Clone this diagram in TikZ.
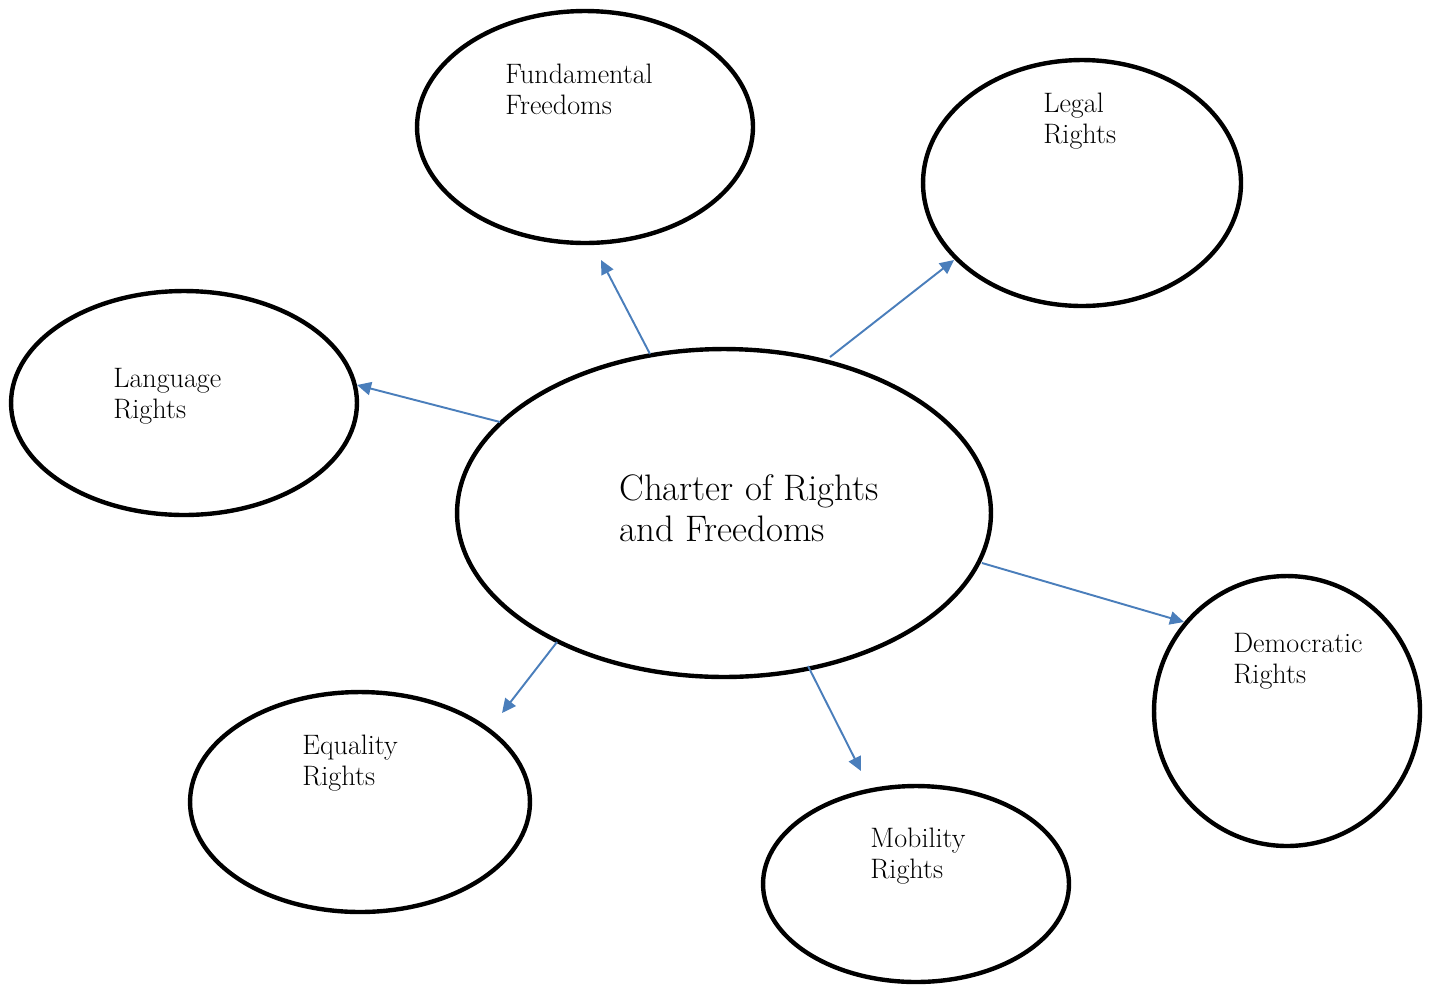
\documentclass[tikz,border=0pt]{standalone}
\usetikzlibrary{arrows.meta,shapes.geometric}
\definecolor{arrowblue}{RGB}{74,126,187}
\begin{document}
\begin{tikzpicture}[x=0.02cm,y=-0.02cm,
  bubble/.style={draw=black,line width=2.5pt,ellipse,inner sep=0pt,outer sep=0pt},
  lbl/.style={anchor=north west,inner sep=0pt,align=left,font=\fontsize{16}{17.6}\selectfont},
  biglbl/.style={anchor=north west,inner sep=0pt,align=left,font=\fontsize{21}{23.4}\selectfont},
  conn/.style={draw=arrowblue,line width=1.1pt,-{Triangle[length=8pt,width=7.5pt]}}]
\useasboundingbox (0,0) rectangle (1429,988);
% ellipses
\node[bubble,minimum width=6.72cm,minimum height=4.64cm] (fund) at (585,127) {};
\node[bubble,minimum width=6.36cm,minimum height=4.92cm] (legal) at (1082,183) {};
\node[bubble,minimum width=6.92cm,minimum height=4.48cm] (lang) at (184,403) {};
\node[bubble,minimum width=10.68cm,minimum height=6.56cm] (charter) at (724,513) {};
\node[bubble,minimum width=5.32cm,minimum height=5.40cm] (demo) at (1287,711) {};
\node[bubble,minimum width=6.80cm,minimum height=4.40cm] (equal) at (360,802) {};
\node[bubble,minimum width=6.12cm,minimum height=3.92cm] (mobil) at (916,884) {};
% labels
\node[lbl] (tfund) at (505,64) {Fundamental\\Freedoms};
\node[lbl] (tlegal) at (1043,93) {Legal\\Rights};
\node[lbl] (tlang) at (113,368) {Language\\Rights};
\node[lbl] (tdemo) at (1233,633) {Democratic\\Rights};
\node[lbl] (tequal) at (302,735) {Equality\\Rights};
\node[lbl] (tmobil) at (870,828) {Mobility\\Rights};
\node[biglbl] (tcharter) at (619,474) {Charter of Rights\\and Freedoms};
% connector end points
\coordinate (s1) at (650,354); \coordinate (e1) at (601,260);
\coordinate (s2) at (830,357); \coordinate (e2) at (954,260);
\coordinate (s3) at (500,422); \coordinate (e3) at (357,385);
\coordinate (s4) at (982,563); \coordinate (e4) at (1184,622);
\coordinate (s5) at (557,642); \coordinate (e5) at (502,713);
\coordinate (s6) at (808,666); \coordinate (e6) at (861,771);
\draw[conn] (s1) -- (e1);
\draw[conn] (s2) -- (e2);
\draw[conn] (s3) -- (e3);
\draw[conn] (s4) -- (e4);
\draw[conn] (s5) -- (e5);
\draw[conn] (s6) -- (e6);
\end{tikzpicture}
\end{document}
